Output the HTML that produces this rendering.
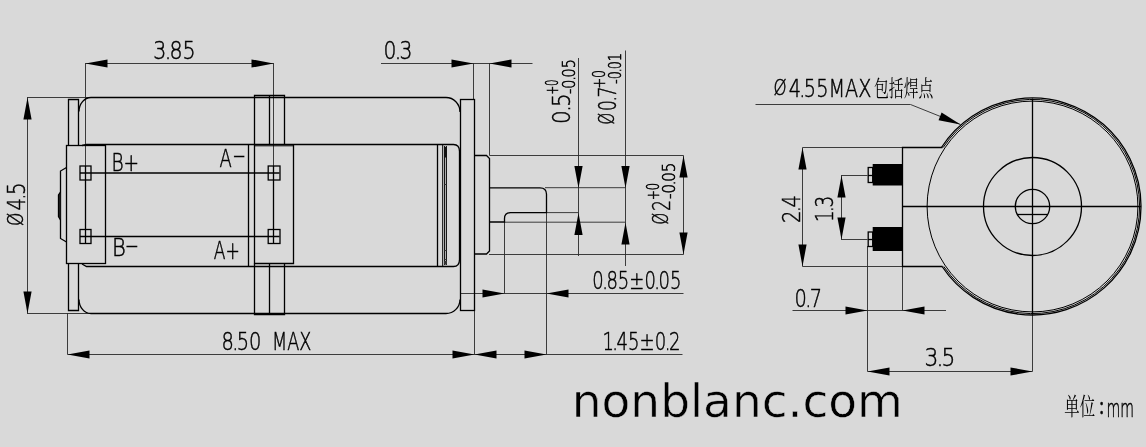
<!DOCTYPE html>
<html lang="zh">
<head>
<meta charset="utf-8">
<title>nonblanc.com</title>
<style>
html,body{margin:0;padding:0;background:#d9d9d9;}
body{width:1146px;height:447px;overflow:hidden;}
svg{display:block;will-change:transform;}
.k{fill:none;stroke:#000;stroke-width:1.3;}
.k2{fill:#222;stroke:#000;stroke-width:1.3;}
.k1{fill:none;stroke:#000;stroke-width:1;}
.n{fill:none;stroke:#2a2a2a;stroke-width:0.9;}
.a{fill:#000;stroke:none;}
.t{font-family:'DejaVu Sans Light','DejaVu Sans','Liberation Sans',sans-serif;font-weight:200;fill:#000;stroke:#000;stroke-width:0.5;}
.c{font-family:'Liberation Serif','Noto Serif CJK SC','Noto Sans CJK SC',serif;fill:#000;}
.w{font-family:'DejaVu Sans','Liberation Sans',sans-serif;fill:#000;stroke:#d9d9d9;stroke-width:0.5;}
.cb{font-family:'Liberation Serif','Noto Serif CJK SC',serif;fill:#000;stroke:#000;stroke-width:0.7;}
.s{font-family:'DejaVu Sans Light','DejaVu Sans','Liberation Sans',sans-serif;font-weight:200;fill:#000;stroke:#000;stroke-width:0.6;}
</style>
</head>
<body>
<svg width="1146" height="447" viewBox="0 0 1146 447">
<rect x="0" y="0" width="1146" height="447" fill="#d9d9d9"/>
<line class="n" x1="85.5" y1="63" x2="85.5" y2="166"/>
<line class="n" x1="273.5" y1="63" x2="273.5" y2="166"/>
<line class="n" x1="85.5" y1="63.5" x2="273.5" y2="63.5"/>
<polygon class="a" points="85.5,63.5 107.5,59.4 107.5,67.6"/>
<polygon class="a" points="273.5,63.5 251.5,59.4 251.5,67.6"/>
<line class="n" x1="27" y1="97.5" x2="91" y2="97.5"/>
<line class="n" x1="27" y1="313.5" x2="91" y2="313.5"/>
<line class="n" x1="27.5" y1="97.5" x2="27.5" y2="313.5"/>
<polygon class="a" points="27.5,97.5 23.4,119.5 31.6,119.5"/>
<polygon class="a" points="27.5,313.5 23.4,291.5 31.6,291.5"/>
<line class="n" x1="67.5" y1="313" x2="67.5" y2="354.5"/>
<line class="n" x1="474.5" y1="310" x2="474.5" y2="354.5"/>
<line class="n" x1="67.5" y1="354.5" x2="682.5" y2="354.5"/>
<polygon class="a" points="67.5,354.5 89.5,350.4 89.5,358.6"/>
<polygon class="a" points="474.5,354.5 452.5,350.4 452.5,358.6"/>
<polygon class="a" points="474.5,354.5 496.5,350.4 496.5,358.6"/>
<polygon class="a" points="546.5,354.5 524.5,350.4 524.5,358.6"/>
<line class="n" x1="381" y1="63.5" x2="532.5" y2="63.5"/>
<line class="n" x1="473.5" y1="63" x2="473.5" y2="99.5"/>
<line class="n" x1="489.5" y1="63" x2="489.5" y2="155.5"/>
<polygon class="a" points="473.5,63.5 451.5,59.4 451.5,67.6"/>
<polygon class="a" points="489.5,63.5 511.5,59.4 511.5,67.6"/>
<line class="n" x1="489.5" y1="155.5" x2="683.5" y2="155.5"/>
<line class="n" x1="545" y1="187.7" x2="625.5" y2="187.7"/>
<line class="n" x1="546" y1="212.6" x2="578.5" y2="212.6"/>
<line class="n" x1="504" y1="222.2" x2="625.5" y2="222.2"/>
<line class="n" x1="489" y1="254.5" x2="683.5" y2="254.5"/>
<line class="n" x1="578.5" y1="58" x2="578.5" y2="256"/>
<polygon class="a" points="578.5,188 574.4,166 582.6,166"/>
<polygon class="a" points="578.5,213 574.4,235 582.6,235"/>
<line class="n" x1="625.5" y1="50.5" x2="625.5" y2="266"/>
<polygon class="a" points="625.5,188 621.4,166 629.6,166"/>
<polygon class="a" points="625.5,222.5 621.4,244.5 629.6,244.5"/>
<line class="n" x1="683.5" y1="155.5" x2="683.5" y2="254.5"/>
<polygon class="a" points="683.5,155.5 679.4,177.5 687.6,177.5"/>
<polygon class="a" points="683.5,254.5 679.4,232.5 687.6,232.5"/>
<line class="n" x1="460.5" y1="293.5" x2="683.5" y2="293.5"/>
<line class="n" x1="504.5" y1="221.5" x2="504.5" y2="293.5"/>
<line class="n" x1="546.5" y1="213" x2="546.5" y2="354.5"/>
<polygon class="a" points="504.5,293.5 482.5,289.4 482.5,297.6"/>
<polygon class="a" points="546.5,293.5 568.5,289.4 568.5,297.6"/>
<path class="k" d="M79,111.5 A12,14 0 0 1 91,97.5 H446 A14,14.5 0 0 1 460,112"/>
<path class="k" d="M79,299.5 A12,14 0 0 0 91,313.5 H446 A14,14 0 0 0 460,299.5"/>
<path class="k" d="M68.5,145.5 V99.5 H78.5 V145.5"/>
<path class="k" d="M68.5,263.5 V310.5 H78.5 V263.5"/>
<rect class="k" x="66.5" y="145.5" width="39.0" height="118.0"/>
<path class="k" d="M82,145.5 L86.5,144.5 H453.5 Q459.5,144.5 459.5,151.5 V259.5 Q459.5,266.5 453.5,266.5 H86.5 L82,264"/>
<path class="k" d="M66.5,167.5 L60.5,171 V238.5 L66.5,242"/>
<path class="k2" d="M60.5,192 L58.5,195 V216.5 L60.5,220"/>
<rect class="k" x="80.0" y="166" width="11.0" height="14"/>
<rect class="k" x="80.0" y="229.5" width="11.0" height="14.0"/>
<rect class="k" x="268.2" y="166" width="11.8" height="14"/>
<rect class="k" x="268.2" y="229.5" width="11.8" height="14.0"/>
<line class="k" x1="80" y1="173" x2="279.5" y2="173"/>
<line class="k" x1="80" y1="236.5" x2="279.5" y2="236.5"/>
<line class="k" x1="85.5" y1="166" x2="85.5" y2="243.5"/>
<line class="k" x1="273.5" y1="166" x2="273.5" y2="243.5"/>
<path class="k" d="M254.5,144.5 V95.5 H284.5 V144.5"/>
<line class="k" x1="269.5" y1="95.5" x2="269.5" y2="144.5"/>
<path class="k" d="M254.5,263.5 V314.5 H284.5 V263.5"/>
<line class="k" x1="269.5" y1="263.5" x2="269.5" y2="314.5"/>
<line class="k" x1="248.5" y1="144.5" x2="248.5" y2="266.5"/>
<path class="k" d="M254.5,144.5 V263.5 H293.5 V144.5"/>
<line class="k1" x1="254.5" y1="145.8" x2="293.5" y2="145.8"/>
<line class="k" x1="437.5" y1="144.5" x2="437.5" y2="266.5"/>
<line class="k1" x1="442.7" y1="144.5" x2="442.7" y2="266.5"/>
<line class="k1" x1="444.6" y1="146" x2="444.6" y2="265"/>
<line class="k1" x1="446.4" y1="146" x2="446.4" y2="265"/>
<rect x="444" y="147" width="3" height="10.5" fill="#111"/><rect x="444" y="261" width="3" height="3.5" fill="#333"/>
<line class="n" x1="444" y1="184.5" x2="447" y2="184.5"/>
<line class="n" x1="444" y1="250.5" x2="447" y2="250.5"/>
<line class="n" x1="444" y1="259.5" x2="447" y2="259.5"/>
<rect class="k" x="460.5" y="99.5" width="14.0" height="211.0"/>
<path class="k" d="M474.5,155.5 H486.5 L489.5,158.5 V251 L486.5,254 H474.5"/>
<path class="k" d="M489.5,187.8 H540 Q546.5,187.8 546.5,194.3 V212.6 H510.5 Q504.5,212.6 504.5,218.6 V222 H489.5"/>
<path class="n" d="M755.5,104.5 H910.5 L960.5,124.5"/>
<polygon class="a" points="960.50,124.50 938.55,120.14 941.60,112.52"/>
<line class="n" x1="802.5" y1="147.5" x2="902.5" y2="147.5"/>
<line class="n" x1="802.5" y1="266.5" x2="902.5" y2="266.5"/>
<line class="n" x1="802.5" y1="147.5" x2="802.5" y2="266.5"/>
<polygon class="a" points="802.5,147.5 798.4,169.5 806.6,169.5"/>
<polygon class="a" points="802.5,266.5 798.4,244.5 806.6,244.5"/>
<line class="n" x1="841" y1="175.5" x2="867.5" y2="175.5"/>
<line class="n" x1="841" y1="239.5" x2="867.5" y2="239.5"/>
<line class="n" x1="841.5" y1="175.5" x2="841.5" y2="239.5"/>
<polygon class="a" points="841.5,175.5 837.4,197.5 845.6,197.5"/>
<polygon class="a" points="841.5,239.5 837.4,217.5 845.6,217.5"/>
<line class="n" x1="792.5" y1="310.5" x2="946" y2="310.5"/>
<line class="n" x1="867.5" y1="246" x2="867.5" y2="371.5"/>
<line class="n" x1="902.5" y1="266.5" x2="902.5" y2="310.5"/>
<polygon class="a" points="867.5,310.5 845.5,306.4 845.5,314.6"/>
<polygon class="a" points="902.5,310.5 924.5,306.4 924.5,314.6"/>
<line class="n" x1="867.5" y1="371.5" x2="1032.5" y2="371.5"/>
<polygon class="a" points="867.5,371.5 889.5,367.4 889.5,375.6"/>
<polygon class="a" points="1032.5,371.5 1010.5,367.4 1010.5,375.6"/>
<line class="n" x1="1032.5" y1="314" x2="1032.5" y2="371.5"/>
<path class="k" d="M942.5,147.5 H902.5 V266.5 H942.5"/>
<rect x="872.7" y="164" width="29.8" height="21.5" fill="#000"/><rect x="872.7" y="227" width="29.8" height="24" fill="#000"/>
<rect class="k" x="868.2" y="167.5" width="4.5" height="15.0"/>
<rect class="k" x="868.2" y="232" width="4.5" height="14.5"/>
<line class="k" x1="868" y1="175.5" x2="873" y2="175.5"/>
<line class="k" x1="868" y1="239.5" x2="873" y2="239.5"/>
<circle class="k1" cx="1032.5" cy="206.5" r="105.4"/>
<circle class="k" cx="1032.5" cy="206.5" r="49"/>
<path class="k1" d="M943.12,147.5 A107.1,107.1 0 1 1 943.78,266.5"/>
<path class="k" d="M941.44,147.5 A108.5,108.5 0 1 1 942.10,266.5"/>
<circle class="k" cx="1032.5" cy="206.5" r="17.2"/>
<line class="k" x1="1017.27" y1="214.5" x2="1047.73" y2="214.5"/>
<line class="k" x1="902.5" y1="206.5" x2="1141" y2="206.5"/>
<line class="k" x1="1032.5" y1="98.5" x2="1032.5" y2="314"/>
<text class="t" x="153.3" y="58.6" font-size="25.3" textLength="42.4" lengthAdjust="spacingAndGlyphs">3<tspan dx="-2.15">.</tspan><tspan dx="-2.15">85</tspan></text>
<text class="t" x="383.6" y="58.8" font-size="25.3" textLength="28.9" lengthAdjust="spacingAndGlyphs">0<tspan dx="-2.15">.</tspan><tspan dx="-2.15">3</tspan></text>
<text class="t" x="221.4" y="350.1" font-size="25.3" textLength="40.0" lengthAdjust="spacingAndGlyphs">8<tspan dx="-2.15">.</tspan><tspan dx="-2.15">50</tspan></text>
<text class="t" x="272.0" y="350.1" font-size="25.3" textLength="39.5" lengthAdjust="spacingAndGlyphs">MAX</text>
<text class="t" x="111.4" y="170.5" font-size="24.6" textLength="27.7" lengthAdjust="spacingAndGlyphs">B+</text>
<text class="t" x="219.4" y="166.8" font-size="24.6" textLength="12.3" lengthAdjust="spacingAndGlyphs">A</text>
<text class="t" x="232.6" y="163.1" font-size="24.6" textLength="13.3" lengthAdjust="spacingAndGlyphs">-</text>
<text class="t" x="112.0" y="256.0" font-size="24.6" textLength="13.8" lengthAdjust="spacingAndGlyphs">B</text>
<text class="t" x="124.9" y="252.6" font-size="24.6" textLength="13.8" lengthAdjust="spacingAndGlyphs">-</text>
<text class="t" x="213.8" y="258.5" font-size="24.6" textLength="26.1" lengthAdjust="spacingAndGlyphs">A+</text>
<text class="t" x="592.3" y="288.7" font-size="25.3" textLength="89.1" lengthAdjust="spacingAndGlyphs">0<tspan dx="-2.15">.</tspan><tspan dx="-2.15">85±0</tspan><tspan dx="-2.15">.</tspan><tspan dx="-2.15">05</tspan></text>
<text class="t" x="602.4" y="350.1" font-size="25.3" textLength="78.0" lengthAdjust="spacingAndGlyphs">1<tspan dx="-2.15">.</tspan><tspan dx="-2.15">45±0</tspan><tspan dx="-2.15">.</tspan><tspan dx="-2.15">2</tspan></text>
<text class="t" x="794.5" y="306.9" font-size="25.3" textLength="27.6" lengthAdjust="spacingAndGlyphs">0<tspan dx="-2.15">.</tspan><tspan dx="-2.15">7</tspan></text>
<text class="t" x="924.4" y="366.0" font-size="25.3" textLength="31.0" lengthAdjust="spacingAndGlyphs">3<tspan dx="-2.15">.</tspan><tspan dx="-2.15">5</tspan></text>
<text class="t" x="773.5" y="96.8" font-size="25.3" textLength="98.0" lengthAdjust="spacingAndGlyphs"><tspan font-size="21.8" dy="-1.52">Ø</tspan><tspan dy="1.52" dx="2.78">4</tspan><tspan dx="-2.15">.</tspan><tspan dx="-2.15">55MAX</tspan></text>
<text class="t" x="24.5" y="226.0" font-size="25.3" textLength="43.4" lengthAdjust="spacingAndGlyphs" transform="rotate(-90 24.5 226.0)"><tspan font-size="21.8" dy="-1.52">Ø</tspan><tspan dy="1.52" dx="2.78">4</tspan><tspan dx="-2.15">.</tspan><tspan dx="-2.15">5</tspan></text>
<text class="t" x="799.5" y="223.0" font-size="25.3" textLength="27.9" lengthAdjust="spacingAndGlyphs" transform="rotate(-90 799.5 223.0)">2<tspan dx="-2.15">.</tspan><tspan dx="-2.15">4</tspan></text>
<text class="t" x="832.8" y="222.0" font-size="25.3" textLength="26.1" lengthAdjust="spacingAndGlyphs" transform="rotate(-90 832.8 222.0)">1<tspan dx="-2.15">.</tspan><tspan dx="-2.15">3</tspan></text>
<text class="t" x="569.5" y="124.0" font-size="25.3" textLength="30.6" lengthAdjust="spacingAndGlyphs" transform="rotate(-90 569.5 124.0)">0<tspan dx="-2.15">.</tspan><tspan dx="-2.15">5</tspan></text>
<text class="s" x="558.0" y="94.5" font-size="17.2" textLength="15.1" lengthAdjust="spacingAndGlyphs" transform="rotate(-90 558.0 94.5)">+0</text>
<text class="s" x="575.0" y="94.0" font-size="17.2" textLength="34.9" lengthAdjust="spacingAndGlyphs" transform="rotate(-90 575.0 94.0)">-0<tspan dx="-1.46">.</tspan><tspan dx="-1.46">05</tspan></text>
<text class="t" x="615.5" y="124.5" font-size="25.3" textLength="37.9" lengthAdjust="spacingAndGlyphs" transform="rotate(-90 615.5 124.5)"><tspan font-size="21.8" dy="-1.52">Ø</tspan><tspan dy="1.52" dx="2.78">0</tspan><tspan dx="-2.15">.</tspan><tspan dx="-2.15">7</tspan></text>
<text class="s" x="605.0" y="88.5" font-size="17.2" textLength="18.5" lengthAdjust="spacingAndGlyphs" transform="rotate(-90 605.0 88.5)">+0</text>
<text class="s" x="621.0" y="84.0" font-size="17.2" textLength="31.0" lengthAdjust="spacingAndGlyphs" transform="rotate(-90 621.0 84.0)">-0<tspan dx="-1.46">.</tspan><tspan dx="-1.46">01</tspan></text>
<text class="t" x="670.0" y="224.5" font-size="25.3" textLength="24.5" lengthAdjust="spacingAndGlyphs" transform="rotate(-90 670.0 224.5)"><tspan font-size="21.8" dy="-1.52">Ø</tspan><tspan dy="1.52" dx="2.78">2</tspan></text>
<text class="s" x="659.0" y="200.0" font-size="17.2" textLength="17.1" lengthAdjust="spacingAndGlyphs" transform="rotate(-90 659.0 200.0)">+0</text>
<text class="s" x="675.0" y="199.0" font-size="17.2" textLength="36.4" lengthAdjust="spacingAndGlyphs" transform="rotate(-90 675.0 199.0)">-0<tspan dx="-1.46">.</tspan><tspan dx="-1.46">05</tspan></text>
<text class="c" x="874.0" y="95.5" font-size="22.1" textLength="59.4" lengthAdjust="spacingAndGlyphs">包括焊点</text>
<text class="c" x="1064.3" y="414.5" font-size="23.6" textLength="30.8" lengthAdjust="spacingAndGlyphs">单位</text>
<text class="cb" x="1099.2" y="413.5" font-size="25.0" textLength="4.8" lengthAdjust="spacingAndGlyphs">:</text>
<text class="t" x="1106.5" y="416.6" font-size="25.0" textLength="27.5" lengthAdjust="spacingAndGlyphs">mm</text>
<text class="w" x="571.8" y="417.4" font-size="46.5" textLength="331.1" lengthAdjust="spacingAndGlyphs">nonblanc.com</text>
</svg>
</body>
</html>
